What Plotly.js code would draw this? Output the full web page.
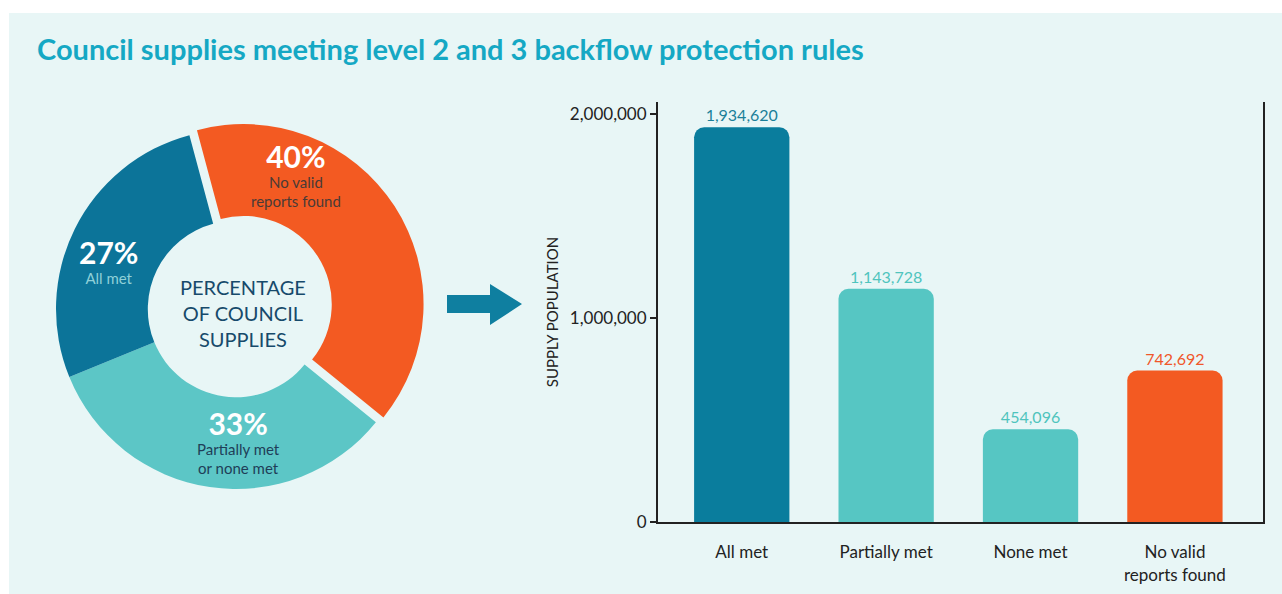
<!DOCTYPE html>
<html>
<head>
<meta charset="utf-8">
<script src="https://cdn.plot.ly/plotly-3.0.1.min.js"></script>
<style>
  html, body { margin: 0; padding: 0; background: #ffffff; }
  #chart { width: 1282px; height: 594px; }
</style>
</head>
<body>
<div id="chart"></div>
<script>
// ---- Data ----
const barCategories = ['All met', 'Partially met', 'None met', 'No valid<br>reports found'];
const barValues = [1934620, 1143728, 454096, 742692];
const barColors = ['#0a7d9d', '#56c6c3', '#56c6c3', '#f35a22'];
const barLabelColors = ['#1b7f99', '#4fc4bd', '#4fc4bd', '#f0572a'];

const pieLabels = ['No valid reports found', 'Partially met or none met', 'All met'];
const pieValues = [40, 33, 27];
const pieColors = ['#f35a22', '#5cc6c6', '#0c7499'];
const pieCaptions = ['No valid<br>reports found', 'Partially met<br>or none met', 'All met'];
const pieCaptionColors = ['#4a3a36', '#1f3e58', '#8fd0d8'];

const yTickVals = [0, 1000000, 2000000];
const yTickText = ['0', '1,000,000', '2,000,000'];

// ---- Layout helpers (pixel -> paper) ----
const W = 1282, H = 594;
const px = x => x / W;
const py = y => 1 - y / H;

const FONT = 'Lato, "Open Sans", sans-serif';

const pieTrace = {
  type: 'pie',
  labels: pieLabels,
  values: pieValues,
  marker: { colors: pieColors, line: { width: 0 } },
  hole: 0.49,
  sort: false,
  direction: 'clockwise',
  rotation: -15,
  pull: [0.05, 0, 0],
  textinfo: 'none',
  hoverinfo: 'none',
  showlegend: false,
  domain: { x: [px(47), px(425)], y: [py(498), py(120)] }
};

const barTrace = {
  type: 'bar',
  x: barCategories,
  y: barValues,
  width: 0.66,
  marker: { color: barColors, cornerradius: 10, line: { width: 0 } },
  text: barValues.map(v => v.toLocaleString('en-US')),
  textposition: 'outside',
  outsidetextfont: { family: FONT, size: 16, color: barLabelColors },
  cliponaxis: false,
  hoverinfo: 'none',
  showlegend: false,
  xaxis: 'x',
  yaxis: 'y'
};

// annotation anchor positions for donut labels (pixel, top-centre of block)
const pieLabelPos = [[296, 136], [238, 403], [108, 232]];

const annotations = [];
pieValues.forEach((v, i) => {
  annotations.push({
    xref: 'paper', yref: 'paper',
    x: px(pieLabelPos[i][0]), y: py(pieLabelPos[i][1]),
    text: '<span style="font-size:30px;color:#ffffff"><b>' + v + '%</b></span><br>' + pieCaptions[i],
    showarrow: false,
    font: { family: FONT, size: 15, color: pieCaptionColors[i] },
    xanchor: 'center', yanchor: 'top'
  });
});
annotations.push({
  xref: 'paper', yref: 'paper',
  x: px(243), y: py(313),
  text: 'PERCENTAGE<br>OF COUNCIL<br>SUPPLIES', showarrow: false,
  font: { family: FONT, size: 20, color: '#174a6b' },
  xanchor: 'center', yanchor: 'middle'
});

// arrow shape path (pixels -> paper)
const arrowPts = [[447, 295], [490, 295], [490, 284], [522, 304], [490, 325], [490, 313], [447, 313]];
const arrowPath = 'M ' + arrowPts.map(p => px(p[0]) + ',' + py(p[1])).join(' L ') + ' Z';

const layout = {
  width: W, height: H,
  margin: { l: 0, r: 0, t: 0, b: 0 },
  paper_bgcolor: '#ffffff',
  plot_bgcolor: 'rgba(0,0,0,0)',
  font: { family: FONT, color: '#222222' },
  title: {
    text: '<b>Council supplies meeting level 2 and 3 backflow protection rules</b>',
    font: { family: FONT, size: 29, color: '#15a8c4' },
    xref: 'paper', yref: 'paper',
    x: px(37), xanchor: 'left',
    y: py(50), yanchor: 'middle'
  },
  xaxis: {
    domain: [px(658), px(1263)],
    range: [-0.58, 3.61],
    showline: true, linecolor: '#222222', linewidth: 2,
    ticks: '', showgrid: false, zeroline: false,
    ticklabelstandoff: 14,
    tickfont: { family: FONT, size: 17, color: '#222222' },
    fixedrange: true
  },
  yaxis: {
    domain: [py(522), py(102)],
    range: [0, 2059000],
    showline: true, linecolor: '#222222', linewidth: 2, mirror: true,
    ticks: 'outside', ticklen: 6, tickwidth: 1.5, tickcolor: '#222222',
    tickvals: yTickVals, ticktext: yTickText,
    showgrid: false, zeroline: false,
    tickfont: { family: FONT, size: 17, color: '#222222' },
    title: { text: 'SUPPLY POPULATION', font: { family: FONT, size: 15, color: '#222222' }, standoff: 8 },
    fixedrange: true
  },
  shapes: [
    {
      type: 'rect', layer: 'below', xref: 'paper', yref: 'paper',
      x0: px(9), x1: 1, y0: 0, y1: py(13),
      fillcolor: '#e8f6f6', line: { width: 0 }
    },
    {
      type: 'path', layer: 'above', xref: 'paper', yref: 'paper',
      path: arrowPath, fillcolor: '#0f7fa0', line: { width: 0 }
    }
  ],
  annotations: annotations
};

Plotly.newPlot('chart', [pieTrace, barTrace], layout, { displayModeBar: false, staticPlot: true });
</script>
</body>
</html>
